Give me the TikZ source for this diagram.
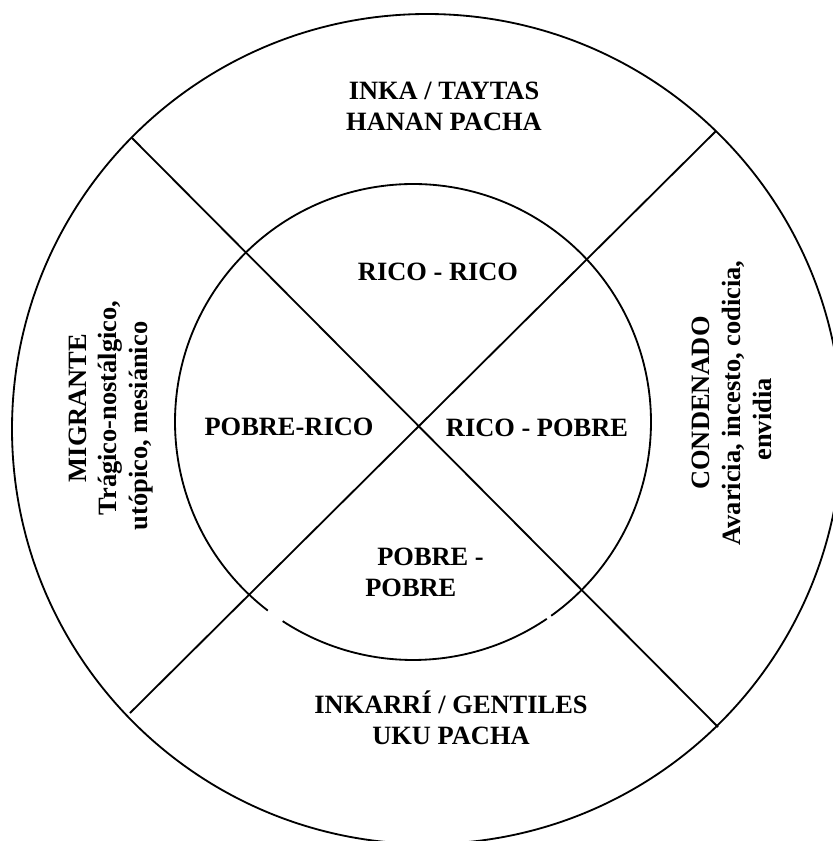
\documentclass[tikz,border=0pt]{standalone}
\usepackage{fontspec}
\setmainfont{Liberation Serif}
\usepackage{tikz}
\usetikzlibrary{calc}
\tikzstyle{ring} = [line width=1.3pt, color=black]
\tikzstyle{zonetext} = [font=\fontsize{18.8}{22}\selectfont\bfseries, align=center, inner sep=0pt]

\begin{document}
\begin{tikzpicture}[x=0.025cm, y=-0.025cm]
    \useasboundingbox (0,0) rectangle (833,841);

    % Circles
    \coordinate (co) at (427,429);
    \coordinate (ci) at (413,422);
    \draw[ring] (co) circle[radius=415];
    \draw[ring] (ci) ++(55.8:238) arc[start angle=55.8, end angle=123.2, radius=238];
    \draw[ring] (ci) ++(127.6:238) arc[start angle=127.6, end angle=414.5, radius=238];

    % Diagonals
    \coordinate (nw) at (132,138);
    \coordinate (se) at (718,727);
    \coordinate (ne) at (716,131);
    \coordinate (sw) at (130,713);
    \draw[ring] (nw) -- (se);
    \draw[ring] (ne) -- (sw);

    % Outer ring
    \node[zonetext] (hanan) at (444,106) {INKA / TAYTAS\\HANAN PACHA};
    \node[zonetext] (uku) at (451,718) {INKARRÍ / GENTILES\\UKU PACHA};
    \node[zonetext, rotate=90] (migrante) at (111,408) {MIGRANTE\\Trágico-nostálgico,\\utópico, mesiánico\hspace*{0.9cm}};
    \node[zonetext, rotate=90] (condenado) at (732,403) {CONDENADO\\Avaricia, incesto, codicia,\\envidia\hspace*{0.82cm}};

    % Inner circle
    \node[zonetext] (ricorico) at (438,272) {RICO - RICO};
    \node[zonetext] (pobrerico) at (289,427) {POBRE-RICO};
    \node[zonetext] (ricopobre) at (537,428) {RICO - POBRE};
    \node[zonetext, align=left, anchor=west] (pobrepobre) at (365,572) {\hspace*{0.3cm}POBRE -\\POBRE};
\end{tikzpicture}
\end{document}
